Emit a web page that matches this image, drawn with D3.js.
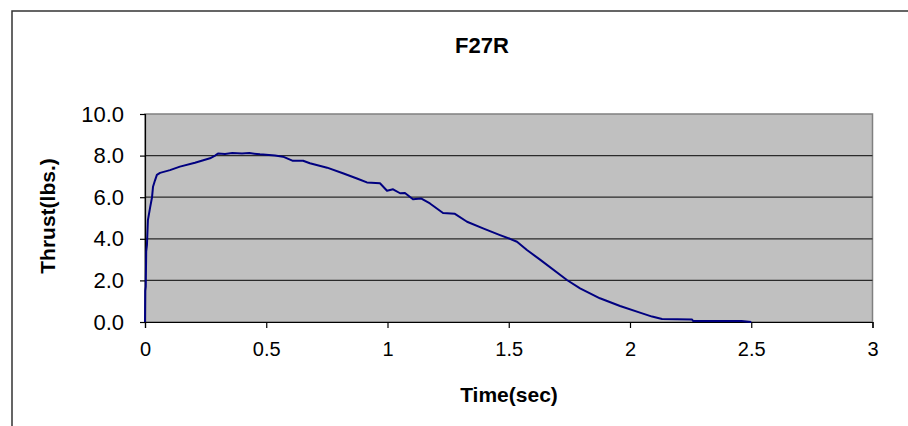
<!DOCTYPE html>
<html>
<head>
<meta charset="utf-8">
<script src="https://cdn.jsdelivr.net/npm/d3@7"></script>
<style>
  body { margin: 0; background: #fff; }
  svg { display: block; font-family: "Liberation Sans", Arial, sans-serif; }
</style>
</head>
<body>
<svg id="chart"></svg>
<script>
const width = 908;
const height = 426;

// thrust curve
const timeSec = [0, 0.001, 0.003, 0.005, 0.008, 0.012, 0.021, 0.029, 0.033, 0.041, 0.049, 0.062, 0.103, 0.144,
  0.206, 0.268, 0.289, 0.301, 0.33, 0.36, 0.40, 0.43, 0.474, 0.536, 0.569, 0.610, 0.652, 0.680, 0.751, 0.816,
  0.874, 0.915, 0.969, 0.998, 1.023, 1.052, 1.072, 1.105, 1.138, 1.175, 1.229, 1.278, 1.328, 1.394, 1.464,
  1.505, 1.534, 1.575, 1.629, 1.740, 1.794, 1.876, 1.959, 2.041, 2.091, 2.132, 2.256, 2.26, 2.46, 2.5];
const thrustLbs = [0, 1.5, 1.7, 3.4, 3.7, 4.9, 5.5, 6.0, 6.5, 6.8, 7.07, 7.17, 7.3, 7.47,
  7.66, 7.87, 8.0, 8.1, 8.08, 8.12, 8.1, 8.12, 8.06, 8.0, 7.95, 7.75, 7.75, 7.63, 7.42, 7.15,
  6.9, 6.71, 6.67, 6.31, 6.38, 6.19, 6.2, 5.9, 5.94, 5.7, 5.24, 5.2, 4.82, 4.5, 4.18,
  4.0, 3.86, 3.46, 3.0, 2.02, 1.62, 1.14, 0.77, 0.45, 0.26, 0.14, 0.12, 0.05, 0.05, 0];
const xTicks = [0, 0.5, 1, 1.5, 2, 2.5, 3];
const yTicks = [0, 2, 4, 6, 8, 10];

const plot = { left: 145, right: 872.5, top: 114, bottom: 322 };

const svg = d3.select("#chart").attr("width", width).attr("height", height);

// outer chart frame (runs off the right/bottom edge)
svg.append("rect")
  .attr("x", 12).attr("y", 11)
  .attr("width", 1000).attr("height", 1000)
  .attr("fill", "none")
  .attr("stroke", "#333")
  .attr("stroke-width", 1.5);

const x = d3.scaleLinear().domain([0, 3]).range([plot.left, plot.right]);
const y = d3.scaleLinear().domain([0, 10]).range([plot.bottom, plot.top]);

// plot area
svg.append("rect")
  .attr("x", plot.left).attr("y", plot.top)
  .attr("width", plot.right - plot.left).attr("height", plot.bottom - plot.top)
  .attr("fill", "#c0c0c0")
  .attr("stroke", "#808080")
  .attr("stroke-width", 1.5);

// gridlines
svg.append("g")
  .selectAll("line")
  .data(yTicks.filter(d => d > 0 && d < 10))
  .join("line")
  .attr("x1", plot.left).attr("x2", plot.right)
  .attr("y1", d => y(d)).attr("y2", d => y(d))
  .attr("stroke", "#2a2a2a")
  .attr("stroke-width", 1.2);

// y axis
const yAxis = svg.append("g")
  .attr("transform", `translate(${plot.left},0)`)
  .call(d3.axisLeft(y).tickValues(yTicks).tickFormat(d3.format(".1f")).tickSize(5).tickPadding(16));
yAxis.select(".domain").attr("stroke", "#000").attr("stroke-width", 1.2);
yAxis.selectAll(".tick line").attr("stroke", "#000").attr("stroke-width", 1.2);
yAxis.selectAll("text").attr("font-size", "22px").attr("fill", "#000")
  .attr("font-family", "Liberation Sans, Arial, sans-serif");

// x axis
const xAxis = svg.append("g")
  .attr("transform", `translate(0,${plot.bottom})`)
  .call(d3.axisBottom(x).tickValues(xTicks).tickFormat(d3.format("")).tickSize(6).tickPadding(14));
xAxis.select(".domain").attr("stroke", "#000").attr("stroke-width", 1.2);
xAxis.selectAll(".tick line").attr("stroke", "#000").attr("stroke-width", 1.2);
xAxis.selectAll("text").attr("font-size", "20px").attr("fill", "#000")
  .attr("font-family", "Liberation Sans, Arial, sans-serif");

// thrust curve
const points = timeSec.map((t, i) => [t, thrustLbs[i]]);
svg.append("path")
  .datum(points)
  .attr("fill", "none")
  .attr("stroke", "#000080")
  .attr("stroke-width", 2)
  .attr("stroke-linejoin", "round")
  .attr("d", d3.line().x(d => x(d[0])).y(d => y(d[1])));

// title
svg.append("text")
  .attr("x", 482).attr("y", 53)
  .attr("text-anchor", "middle")
  .attr("font-size", "22px")
  .attr("font-weight", "bold")
  .text("F27R");

// axis titles
svg.append("text")
  .attr("x", 509).attr("y", 402)
  .attr("text-anchor", "middle")
  .attr("font-size", "21px")
  .attr("font-weight", "bold")
  .text("Time(sec)");

svg.append("text")
  .attr("transform", `translate(55,216) rotate(-90)`)
  .attr("text-anchor", "middle")
  .attr("font-size", "21px")
  .attr("font-weight", "bold")
  .text("Thrust(lbs.)");
</script>
</body>
</html>
